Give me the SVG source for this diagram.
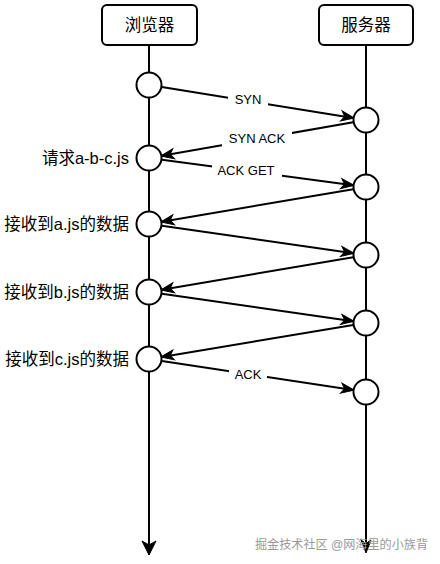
<svg xmlns="http://www.w3.org/2000/svg" width="440" height="564" viewBox="0 0 440 564">
<defs>
<marker id="arr" markerUnits="userSpaceOnUse" markerWidth="14" markerHeight="12" refX="12" refY="5" orient="auto" overflow="visible">
<path d="M0,0 L13,5 L0,10 L3.5,5 Z" fill="#000" stroke="#000" stroke-width="1" stroke-linejoin="miter"/>
</marker>
<marker id="big" markerUnits="userSpaceOnUse" markerWidth="16" markerHeight="16" refX="14" refY="7" orient="auto" overflow="visible">
<path d="M0,0 L14,7 L0,14 L4,7 Z" fill="#000" stroke="#000" stroke-width="1"/>
</marker>
<style>
.box{fill:#fff;stroke:#000;stroke-width:2}
.life{stroke:#000;stroke-width:2;fill:none}
.node{fill:#fff;stroke:#000;stroke-width:2}
.msg{stroke:#000;stroke-width:2;fill:none;marker-end:url(#arr)}
.t{font-family:"Liberation Sans","Noto Sans CJK SC",sans-serif;font-size:16.5px;fill:#000}
.lbl{font-family:"Liberation Sans","Noto Sans CJK SC",sans-serif;font-size:13px;fill:#000;text-anchor:middle}
.bg{fill:#fff}
.wm{font-family:"Liberation Sans","Noto Sans CJK SC",sans-serif;font-size:12.5px;fill:#999}
</style>
</defs>
<rect width="440" height="564" fill="#fff"/>
<g id="lifelines">
<line class="life" x1="149" y1="45" x2="149" y2="555" marker-end="url(#big)"/>
<line class="life" x1="366" y1="45" x2="366" y2="552" marker-end="url(#arr)"/>
</g>
<g id="browser">
<rect class="box" x="102" y="5" width="95" height="40" rx="5"/>
<text class="t" x="149.5" y="31" text-anchor="middle">浏览器</text>
</g>
<g id="server">
<rect class="box" x="319" y="5" width="94" height="40" rx="5"/>
<text class="t" x="366" y="31" text-anchor="middle">服务器</text>
</g>
<g id="connectors">
<line class="msg" x1="161.8" y1="87.1" x2="353.2" y2="117.9"/>
<line class="msg" x1="353.2" y1="122.2" x2="161.8" y2="155.8"/>
<line class="msg" x1="161.9" y1="159.7" x2="353.1" y2="185.3"/>
<line class="msg" x1="353.2" y1="189.2" x2="161.8" y2="221.8"/>
<line class="msg" x1="161.9" y1="225.8" x2="353.1" y2="253.2"/>
<line class="msg" x1="353.2" y1="257.2" x2="161.8" y2="289.8"/>
<line class="msg" x1="161.9" y1="293.8" x2="353.1" y2="321.2"/>
<line class="msg" x1="353.2" y1="325.1" x2="161.8" y2="356.9"/>
<line class="msg" x1="161.9" y1="361.0" x2="353.1" y2="390.0"/>
<rect class="bg" x="228" y="92" width="40" height="15"/>
<text class="lbl" x="248" y="104">SYN</text>
<rect class="bg" x="222" y="131" width="70" height="15"/>
<text class="lbl" x="257" y="143">SYN ACK</text>
<rect class="bg" x="212" y="163" width="70" height="15"/>
<text class="lbl" x="246" y="175">ACK GET</text>
<rect class="bg" x="229" y="367" width="38" height="15"/>
<text class="lbl" x="248" y="379">ACK</text>
</g>
<g id="b1"><circle class="node" cx="149" cy="85" r="12.5"/></g>
<g id="b2"><circle class="node" cx="149" cy="158" r="12.5"/><text class="t" x="129" y="164" text-anchor="end">请求a-b-c.js</text></g>
<g id="b3"><circle class="node" cx="149" cy="224" r="12.5"/><text class="t" x="129" y="230" text-anchor="end">接收到a.js的数据</text></g>
<g id="b4"><circle class="node" cx="149" cy="292" r="12.5"/><text class="t" x="129" y="298" text-anchor="end">接收到b.js的数据</text></g>
<g id="b5"><circle class="node" cx="149" cy="359" r="12.5"/><text class="t" x="129" y="365" text-anchor="end">接收到c.js的数据</text></g>
<g id="s1"><circle class="node" cx="366" cy="120" r="12.5"/></g>
<g id="s2"><circle class="node" cx="366" cy="187" r="12.5"/></g>
<g id="s3"><circle class="node" cx="366" cy="255" r="12.5"/></g>
<g id="s4"><circle class="node" cx="366" cy="323" r="12.5"/></g>
<g id="s5"><circle class="node" cx="366" cy="392" r="12.5"/></g>
<text class="wm" x="255" y="549" textLength="173" lengthAdjust="spacingAndGlyphs">掘金技术社区 @网海里的小族背</text>
</svg>
